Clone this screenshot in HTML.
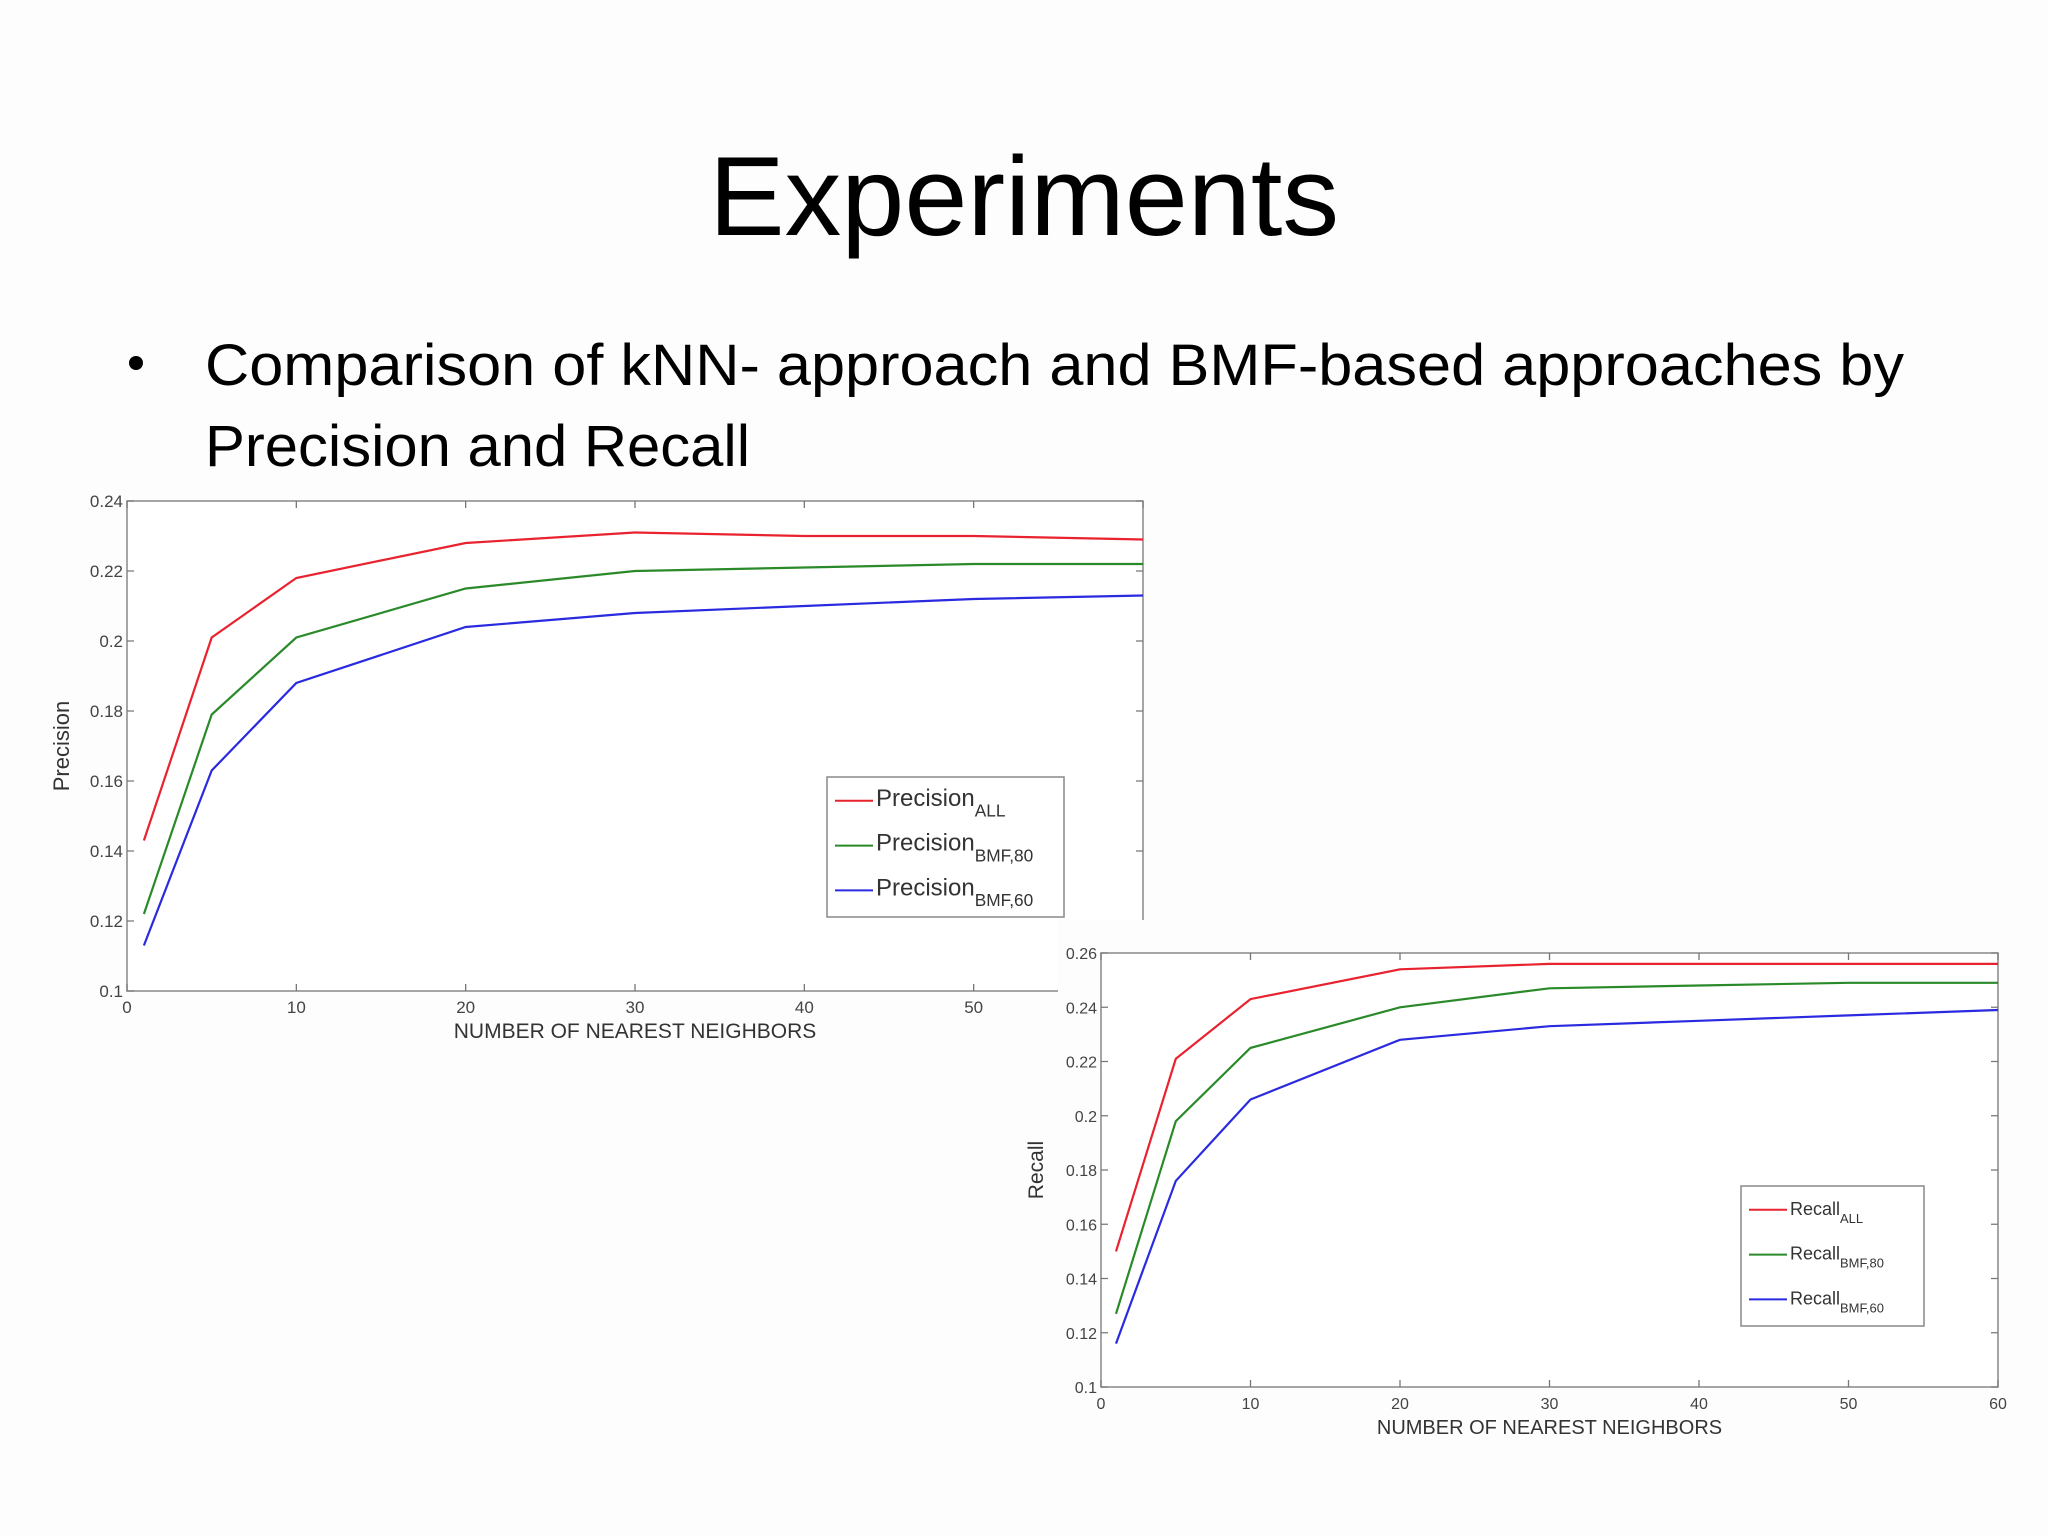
<!DOCTYPE html>
<html><head><meta charset="utf-8">
<style>
html,body{margin:0;padding:0;background:#fff;}
svg{display:block;}
text{font-family:"Liberation Sans",sans-serif;}
</style></head>
<body>
<svg id="s" width="2048" height="1536" viewBox="0 0 2048 1536">
<rect width="2048" height="1536" fill="#fdfdfd"/>
<text x="709" y="235" font-size="112" textLength="630" lengthAdjust="spacingAndGlyphs" fill="#000">Experiments</text>
<circle cx="136" cy="363" r="7" fill="#000"/>
<text x="205" y="385" font-size="58" textLength="1699" lengthAdjust="spacingAndGlyphs" fill="#000">Comparison of kNN- approach and BMF-based approaches by</text>
<text x="205" y="466" font-size="58" textLength="545" lengthAdjust="spacingAndGlyphs" fill="#000">Precision and Recall</text>
<g id="c1"></g>
<rect x="1058" y="920" width="990" height="520" fill="#fdfdfd"/>
<g id="c2"></g>
</svg>
<script>
const xVals = [1, 5, 10, 20, 30, 40, 50, 60];
const xTicks = [0, 10, 20, 30, 40, 50, 60];
const precAll = [0.143, 0.201, 0.218, 0.228, 0.231, 0.230, 0.230, 0.229];
const precBmf80 = [0.122, 0.179, 0.201, 0.215, 0.220, 0.221, 0.222, 0.222];
const precBmf60 = [0.113, 0.163, 0.188, 0.204, 0.208, 0.210, 0.212, 0.213];
const precTicks = [0.1, 0.12, 0.14, 0.16, 0.18, 0.2, 0.22, 0.24];
const precTickLabels = ["0.1", "0.12", "0.14", "0.16", "0.18", "0.2", "0.22", "0.24"];
const recAll = [0.150, 0.221, 0.243, 0.254, 0.256, 0.256, 0.256, 0.256];
const recBmf80 = [0.127, 0.198, 0.225, 0.240, 0.247, 0.248, 0.249, 0.249];
const recBmf60 = [0.116, 0.176, 0.206, 0.228, 0.233, 0.235, 0.237, 0.239];
const recTicks = [0.1, 0.12, 0.14, 0.16, 0.18, 0.2, 0.22, 0.24, 0.26];
const recTickLabels = ["0.1", "0.12", "0.14", "0.16", "0.18", "0.2", "0.22", "0.24", "0.26"];

const NS = "http://www.w3.org/2000/svg";
function mk(parent, tag, attrs, txt) {
  const e = document.createElementNS(NS, tag);
  for (const k in attrs) e.setAttribute(k, attrs[k]);
  if (txt !== undefined) e.textContent = txt;
  parent.appendChild(e);
  return e;
}

function chart(g, cfg) {
  const {L, R, T, B, ymin, ymax, yt, ytl, series, ylabel, leg, clipRight, fs} = cfg;
  const sx = v => L + (v - 0) / 60 * (R - L);
  const sy = v => B - (v - ymin) / (ymax - ymin) * (B - T);
  const frame = mk(g, "rect", {x: L, y: T, width: R - L, height: B - T, fill: "#fff", stroke: "#888", "stroke-width": 1.5});
  
  
  yt.forEach((v, i) => {
    const y = sy(v);
    const tk = mk(g, "path", {d: `M${L} ${y}h7M${R} ${y}h-7`, stroke: "#777", "stroke-width": 1.3});
    
    
    const t = mk(g, "text", {x: L - 4, y: y + 6, "font-size": fs, "text-anchor": "end", fill: "#444"}, ytl[i]);
    
    
  });
  xTicks.forEach(v => {
    const x = sx(v);
    const tk = mk(g, "path", {d: `M${x} ${B}v-7M${x} ${T}v7`, stroke: "#777", "stroke-width": 1.3});
    
    
    if (clipRight && v === 60) return;
    const t = mk(g, "text", {x: x, y: B + 22, "font-size": fs, "text-anchor": "middle", fill: "#444"}, String(v));
    
    
  });
  const xt = mk(g, "text", {x: (L + R) / 2, y: B + 47, "font-size": fs + 4, "text-anchor": "middle", fill: "#333"}, "NUMBER OF NEAREST NEIGHBORS");
  
  
  const yx = L - 58, yy = (T + B) / 2;
  const ytt = mk(g, "text", {x: yx, y: yy, "font-size": fs + 5, "text-anchor": "middle", fill: "#333", transform: `rotate(-90 ${yx} ${yy})`}, ylabel);
  
  
  series.forEach(s => {
    const d = s.vals.map((v, i) => (i ? "L" : "M") + sx(xVals[i]).toFixed(1) + " " + sy(v).toFixed(1)).join("");
    const p = mk(g, "path", {d: d, fill: "none", stroke: s.color, "stroke-width": 2.2});
    
    
  });
  const lb = mk(g, "rect", {x: leg.x, y: leg.y, width: leg.w, height: leg.h, fill: "#fff", stroke: "#888", "stroke-width": 1.5});
  
  
  series.forEach((s, i) => {
    const y = leg.y + leg.h * (0.17 + i * 0.32);
    const ln = mk(g, "line", {x1: leg.x + 8, x2: leg.x + 46, y1: y, y2: y, stroke: s.color, "stroke-width": 2});
    
    
    const t = mk(g, "text", {x: leg.x + 49, y: y + 5, "font-size": leg.fs, fill: "#333"});
    
    
    mk(t, "tspan", {}, s.label);
    mk(t, "tspan", {dy: leg.fs * 0.45, "font-size": leg.fs * 0.72}, s.sub);
  });
}

chart(document.getElementById("c1"), {
  L: 127, R: 1143, T: 501, B: 991, ymin: 0.1, ymax: 0.24, yt: precTicks, ytl: precTickLabels,
  ylabel: "Precision", clipRight: true, fs: 17,
  series: [
    {vals: precAll, color: "#e8222e", name: "line-precision-all", label: "Precision", sub: "ALL"},
    {vals: precBmf80, color: "#2a8a2a", name: "line-precision-bmf80", label: "Precision", sub: "BMF,80"},
    {vals: precBmf60, color: "#2a2ae0", name: "line-precision-bmf60", label: "Precision", sub: "BMF,60"}
  ],
  leg: {x: 827, y: 777, w: 237, h: 140, fs: 24}
});
chart(document.getElementById("c2"), {
  L: 1101, R: 1998, T: 953, B: 1387, ymin: 0.1, ymax: 0.26, yt: recTicks, ytl: recTickLabels,
  ylabel: "Recall", clipRight: false, fs: 16,
  series: [
    {vals: recAll, color: "#e8222e", name: "line-recall-all", label: "Recall", sub: "ALL"},
    {vals: recBmf80, color: "#2a8a2a", name: "line-recall-bmf80", label: "Recall", sub: "BMF,80"},
    {vals: recBmf60, color: "#2a2ae0", name: "line-recall-bmf60", label: "Recall", sub: "BMF,60"}
  ],
  leg: {x: 1741, y: 1186, w: 183, h: 140, fs: 18}
});
</script>
</body></html>
